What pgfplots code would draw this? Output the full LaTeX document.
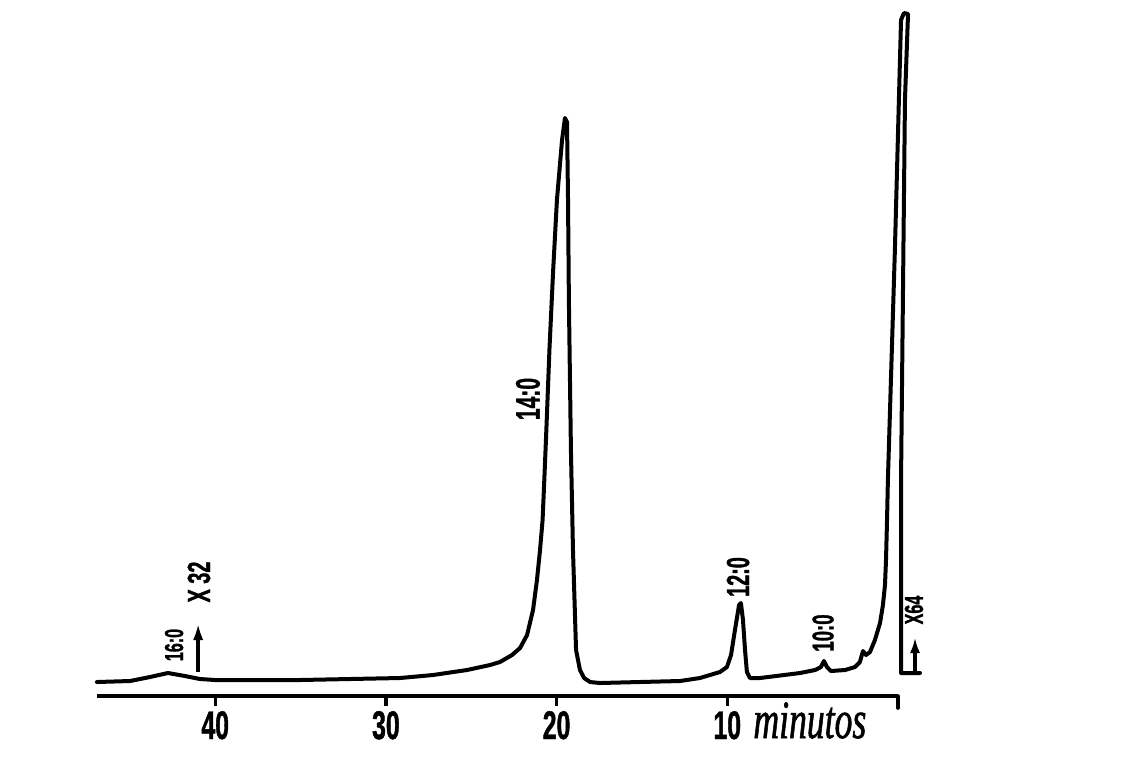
\documentclass[border=0pt]{standalone}
\usepackage{pgfplots}
\pgfplotsset{compat=1.18}
\usetikzlibrary{arrows.meta}
\usepackage{fontspec}
\newfontfamily\labfont[FakeStretch=0.62, FakeBold=1]{Liberation Sans}
\newfontfamily\minfont[FakeStretch=0.66, FakeBold=1]{Liberation Serif}
\begin{document}
\begin{tikzpicture}
\begin{axis}[
  scale only axis,
  width=400.5pt, height=348pt,
  x dir=reverse,
  xmin=0, xmax=46.93,
  ymin=0, ymax=696,
  axis x line*=bottom,
  axis y line=none,
  x axis line style={line width=1.8pt},
  xtick={10,20,30,40},
  tick align=outside,
  major tick length=5pt,
  every tick/.style={line width=1.6pt, black},
  xticklabel style={font=\labfont\bfseries\fontsize{20}{20}\selectfont, yshift=1pt},
  /pgf/number format/assume math mode=true,
  clip=false,
]
\addplot[black, line width=2pt, line join=round, line cap=round] coordinates {
(46.93,14) (44.99,15) (43.82,19) (42.77,23) (41.77,20) (40.89,17) (40.01,16)
(35.03,16) (29.17,18) (27.24,21) (25.25,26) (23.90,31) (23.32,34) (22.61,41)
(22.14,48) (21.73,61) (21.38,86) (21.15,116) (20.97,146) (20.82,176) (20.72,216)
(20.60,266) (20.42,346) (20.20,426) (19.98,496) (19.68,556) (19.51,578) (19.39,574) (19.33,496)
(19.28,396) (19.16,246) (19.04,146) (18.86,46) (18.63,26) (18.39,18) (18.04,14)
(17.46,13) (12.77,15) (11.60,18) (10.43,24) (10.02,29) (9.78,41) (9.55,66)
(9.31,91) (9.20,93) (9.08,76) (8.96,46) (8.85,24) (8.67,18) (8.08,18)
(5.74,23) (4.86,26) (4.51,29) (4.34,35) (4.16,29) (3.93,25) (3.10,26) (2.52,29)
(2.23,34) (2.05,45) (1.87,41) (1.64,44) (1.35,56) (1.05,73) (0.88,91) (0.76,111)
(0.70,136) (0.64,176) (0.59,216) (0.18,446) (-0.18,676) (-0.35,683) (-0.59,682)
(-0.41,596) (-0.18,216) (-0.18,23) (-1.29,23)
};
% right end hook of the time axis
\draw[line width=1.8pt, line cap=round] (axis cs:0,0) -- (axis cs:0,-12);
% labels
\node[rotate=90, font=\labfont\bfseries\fontsize{13}{13}\selectfont] at (axis cs:42.41,51) {16:0};
\node[rotate=90, font=\labfont\bfseries\fontsize{16}{16}\selectfont] at (axis cs:40.95,114) {X 32};
\draw[line width=1.8pt, -{Latex[length=9pt,width=5pt]}] (axis cs:41.0,24) -- (axis cs:41.0,74);
\node[rotate=90, font=\labfont\bfseries\fontsize{17}{17}\selectfont] at (axis cs:21.68,297) {14:0};
\node[rotate=90, font=\labfont\bfseries\fontsize{16}{16}\selectfont] at (axis cs:9.37,119) {12:0};
\node[rotate=90, font=\labfont\bfseries\fontsize{15}{15}\selectfont] at (axis cs:4.39,63) {10:0};
\node[rotate=90, font=\labfont\bfseries\fontsize{13}{13}\selectfont] at (axis cs:-0.94,86) {X64};
\draw[line width=1.8pt, -{Latex[length=8pt,width=5pt]}] (axis cs:-1.0,23) -- (axis cs:-1.0,59);
\node[anchor=base west, inner sep=0pt, font=\minfont\itshape\fontsize{27}{27}\selectfont] at (axis cs:8.49,-42) {minutos};
% picture frame extent (1126 x 759 px)
\path (axis cs:52.61,-63) rectangle (axis cs:-13.36,696);
\end{axis}
\end{tikzpicture}
\end{document}
